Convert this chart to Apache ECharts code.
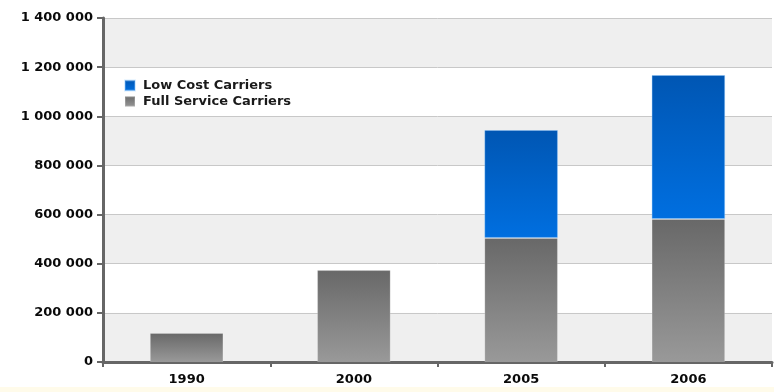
<!DOCTYPE html>
<html>
<head>
<meta charset="utf-8">
<script src="https://cdn.jsdelivr.net/npm/echarts@6/dist/echarts.min.js"></script>
<style>
  html, body { margin: 0; padding: 0; background: #ffffff; }
  #chart { width: 774px; height: 392px; }
</style>
</head>
<body>
<div id="chart"></div>
<script>
// Passenger volumes by carrier type ('-' = no low cost traffic that year)
const years = ['1990', '2000', '2005', '2006'];
const fullService = [118000, 374000, 505000, 582000];
const lowCost = ['-', '-', 439000, 586000];
const yTicks = [0, 200000, 400000, 600000, 800000, 1000000, 1200000, 1400000];

const labelFont = { fontFamily: 'DejaVu Sans', fontWeight: 'bold', fontSize: 13, color: '#0a0a0a' };

function spaced(v) {
  return String(v).replace(/\B(?=(\d{3})+(?!\d))/g, ' ');
}

const chart = echarts.init(document.getElementById('chart'), null, { renderer: 'canvas' });
chart.setOption({
  animation: false,
  backgroundColor: '#ffffff',
  graphic: [{
    type: 'rect', left: 0, top: 387, shape: { width: 774, height: 5 },
    style: { fill: '#fffbea' }, silent: true, z: -1
  }],
  grid: { left: 103, right: 2, top: 18, bottom: 30, containLabel: false },
  legend: {
    data: ['Low Cost Carriers', 'Full Service Carriers'],
    orient: 'vertical', left: 119, top: 74,
    itemWidth: 10, itemHeight: 10, itemGap: 3,
    icon: 'rect',
    textStyle: { fontFamily: 'DejaVu Sans', fontWeight: 'bold', fontSize: 13, color: '#1a1a1a', padding: [0, 0, 0, 3] }
  },
  xAxis: {
    type: 'category', data: years,
    axisLine: { lineStyle: { color: '#666', width: 3 } },
    axisTick: { show: true, length: 5, lineStyle: { color: '#666', width: 2 } },
    axisLabel: Object.assign({ margin: 11 }, labelFont),
    splitLine: { show: false }
  },
  yAxis: {
    type: 'value', min: yTicks[0], max: yTicks[yTicks.length - 1], interval: yTicks[1] - yTicks[0],
    axisLine: { show: true, lineStyle: { color: '#666', width: 3 } },
    axisTick: { show: true, length: 6, lineStyle: { color: '#666', width: 2 } },
    axisLabel: Object.assign({ margin: 10, formatter: v => spaced(v) }, labelFont),
    splitLine: { show: true, lineStyle: { color: '#c8c8c8', width: 1 } },
    splitArea: { show: true, areaStyle: { color: ['#efefef', '#ffffff'] } }
  },
  series: [
    {
      name: 'Full Service Carriers', type: 'bar', stack: 'total', barWidth: '44%',
      data: fullService,
      itemStyle: {
        color: new echarts.graphic.LinearGradient(0, 0, 0, 1, [
          { offset: 0, color: '#686868' }, { offset: 1, color: '#999999' }
        ]),
        borderColor: 'rgba(255,255,255,0.2)', borderWidth: 1
      }
    },
    {
      name: 'Low Cost Carriers', type: 'bar', stack: 'total', barWidth: '44%',
      data: lowCost,
      itemStyle: {
        color: new echarts.graphic.LinearGradient(0, 0, 0, 1, [
          { offset: 0, color: '#0056b3' }, { offset: 1, color: '#006fe0' }
        ]),
        borderColor: 'rgba(140,200,255,0.35)', borderWidth: 1
      }
    }
  ]
});
</script>
</body>
</html>
